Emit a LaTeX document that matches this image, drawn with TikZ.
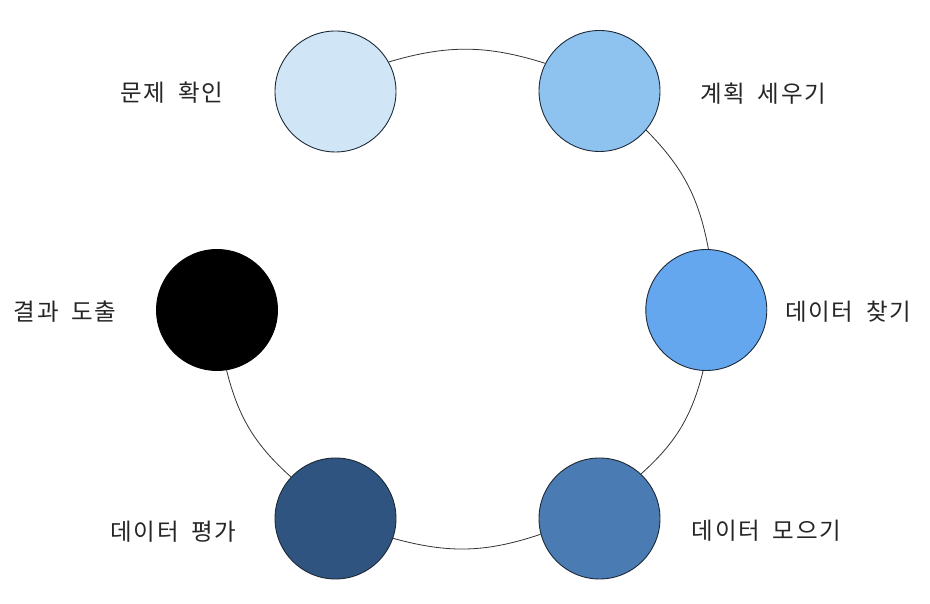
\documentclass[tikz,border=0pt]{standalone}
\usepackage{fontspec}
\newfontfamily\kr{Noto Sans CJK KR}[LetterSpace=7.5,WordSpace=1.8]
\definecolor{c1}{HTML}{D0E6F7}
\definecolor{c2}{HTML}{8EC3F0}
\definecolor{c3}{HTML}{65A7EE}
\definecolor{c4}{HTML}{4A7BB3}
\definecolor{c5}{HTML}{2F5480}
\definecolor{c6}{HTML}{000000}
\definecolor{edge}{HTML}{1E2A38}
\begin{document}
\begin{tikzpicture}[x=1pt,y=1pt,
  dot/.style={circle,draw=edge,line width=0.9pt,minimum size=121pt,inner sep=0pt},
  lab/.style={inner sep=0pt,font=\kr\fontsize{23.5}{27}\selectfont,text=black!85},
  link/.style={draw=black!80,line width=0.8pt,bend left=17}]
\useasboundingbox (0,0) rectangle (930,604);
\fill[white] (0,0) rectangle (930,604);
\node[dot,fill=c1] (a) at (335.5,512.5) {};
\node[dot,fill=c2] (b) at (599.5,513) {};
\node[dot,fill=c3] (c) at (706.3,294) {};
\node[dot,fill=c4] (d) at (599.5,85.5) {};
\node[dot,fill=c5] (e) at (335.5,85.5) {};
\node[dot,fill=c6,draw=black] (f) at (217,294) {};
\draw[link] (a.29) to (b.153);
\draw[link] (b.-40) to (c.88);
\draw[link] (c.-93) to (d.47);
\draw[link] (d.195) to (e.-19);
\draw[link] (e.137) to (f.-81);
\node[lab,anchor=east] (la) at (223.3,511.3) {문제 확인};
\node[lab,anchor=west] (lb) at (700,510.7) {계획 세우기};
\node[lab,anchor=west] (lc) at (785,292.3) {데이터 찾기};
\node[lab,anchor=west] (ld) at (691.7,73.3) {데이터 모으기};
\node[lab,anchor=east] (le) at (236.7,72.3) {데이터 평가};
\node[lab,anchor=east] (lf) at (116.7,292.3) {결과 도출};
\end{tikzpicture}
\end{document}
